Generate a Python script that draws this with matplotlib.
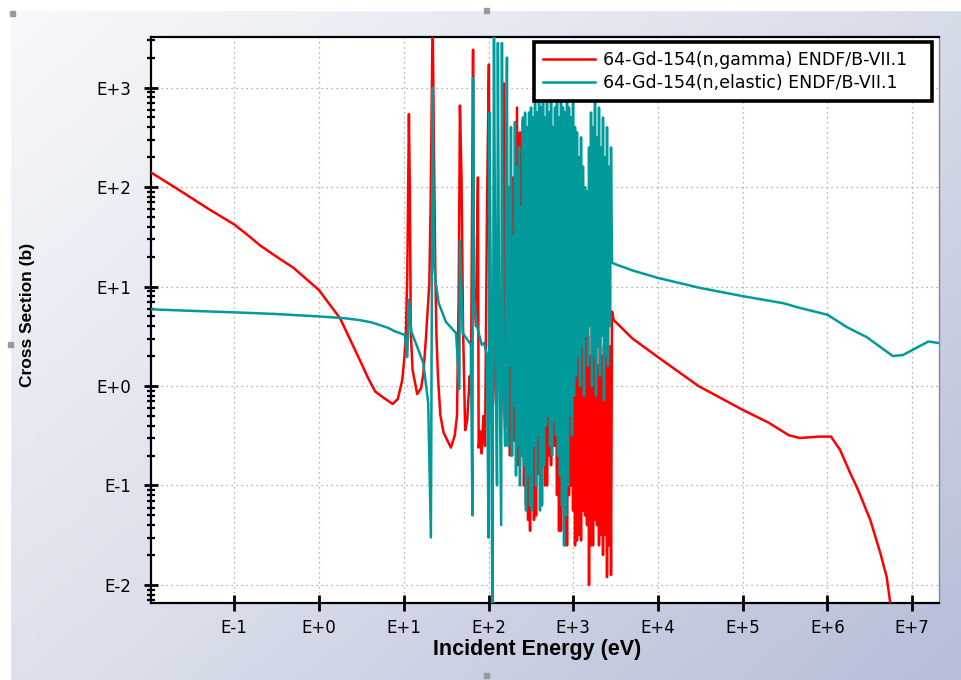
import numpy as np
import matplotlib.pyplot as plt
from matplotlib.colors import LinearSegmentedColormap
from matplotlib.patches import Rectangle
from matplotlib.ticker import LogLocator, NullLocator, NullFormatter

# 64-Gd-154 (n,gamma), low energy + resolved resonances up to ~310 eV
gamma_e = [0.0104, 0.02, 0.05, 0.1, 0.15, 0.2, 0.3, 0.5, 0.7, 1.0, 1.3, 1.77, 2.3, 3.05,
           3.8, 4.6, 5.8, 7.4, 8.5, 9.6, 10.2, 10.6, 11.0, 11.5, 11.8, 12.1, 12.7, 14.4,
           16.0, 17.0, 18.2, 20.0, 20.7, 21.9, 22.6, 23.5, 24.3, 25.3, 27.0, 29.5, 36,
           40, 42.5, 44.5, 46, 48, 50, 53, 56, 60, 62, 65.7, 67, 71, 75, 76.5, 80, 83,
           87, 91, 96, 101, 104, 109, 113, 119, 124, 131, 139, 148, 152, 156, 165, 175,
           179, 184, 189, 195, 200, 205, 211, 217, 223, 229, 235, 242, 249, 255, 262,
           270, 277, 285, 293, 301, 309]
gamma_xs = [140, 99, 60, 42, 32, 26, 20.5, 15.4, 12, 9.2, 6.8, 4.8, 3.0, 1.8,
            1.2, 0.88, 0.76, 0.66, 0.74, 1.15, 2.0, 3.4, 13.5, 540, 85, 3.4, 1.45, 0.83,
            0.95, 1.32, 2.9, 10.5, 58, 5000, 380, 16, 3.2, 1.26, 0.51, 0.34, 0.24,
            0.32, 0.51, 9.5, 660, 125, 4.0, 0.36, 0.45, 1.26, 0.85, 2400, 9.5, 4.0, 125,
            0.24, 0.35, 0.21, 0.5, 0.25, 68, 1700, 2.0, 0.63, 0.66, 4.0, 0.5, 32, 0.32,
            2.5, 1100, 1.6, 0.4, 3.2, 0.2, 10, 0.2, 125, 0.5, 0.28, 16, 630, 0.16, 160,
            355, 0.32, 8, 470, 0.1, 2, 0.063, 20, 0.045, 8, 0.035]

# 64-Gd-154 (n,elastic), low energy + resolved resonances up to ~310 eV
elastic_e = [0.0104, 0.03, 0.1, 0.3, 1.0, 2.0, 3.0, 4.2, 5.2, 6.5, 7.8, 9.0, 10.3, 11.0,
             11.5, 12.3, 14.1, 17, 19.4, 20.9, 21.9, 22.9, 24, 25.8, 31.5, 41.4, 45.3,
             46, 49.6, 56.7, 62, 64.5, 65.7, 67.5, 72.5, 83, 88.7, 96, 100, 103, 107,
             111, 116, 121, 126, 129, 133, 141, 144, 148, 157, 161, 165, 170, 174, 179,
             184, 189, 195, 200, 205, 211, 217, 223, 229, 235, 242, 249, 255, 262, 270,
             277, 285, 293, 301, 309]
elastic_xs = [5.9, 5.7, 5.5, 5.3, 5.0, 4.8, 4.6, 4.35, 4.1, 3.85, 3.55, 3.4, 3.25, 1.95,
              7.4, 3.5, 2.6, 1.7, 0.68, 0.03, 1000, 16, 10.5, 6.8, 4.4, 3.4, 0.93, 29,
              3.4, 2.9, 2.6, 0.05, 1250, 8, 4.1, 2.6, 2.7, 2.0, 0.03, 560, 3.2, 0.005,
              3200, 3.2, 0.1, 2800, 6.3, 0.04, 2800, 2.0, 0.25, 160, 2000, 0.25, 100,
              1.6, 400, 0.2, 32, 0.63, 450, 0.126, 160, 0.25, 250, 0.1, 63, 0.2, 500,
              0.16, 560, 0.056, 400, 0.126, 560, 0.063]

# dense resonance region, ~0.3 - 2.9 keV (shared energy grid)
dense_e = [317.5, 326, 335, 344, 354, 364, 374, 384, 395, 405, 416, 428, 440, 452, 464,
           477, 490, 504, 518, 532, 547, 562, 577, 593, 609, 626, 643, 661, 679, 698,
           717, 737, 757, 778, 800, 822, 844, 868, 891, 916, 941, 967, 994, 1021, 1049,
           1078, 1107, 1138, 1169, 1202, 1235, 1268, 1303, 1339, 1377, 1414, 1453, 1494,
           1535, 1577, 1620, 1664, 1710, 1757, 1806, 1855, 1906, 1959, 2013, 2069, 2125,
           2184, 2244, 2306, 2371, 2435, 2502, 2571, 2642, 2716, 2790, 2866]
gamma_dense = [160, 0.08, 160, 0.045, 10, 0.05, 90, 0.13, 4, 0.13, 16, 295, 0.16, 3.2,
               0.1, 6.3, 0.1, 2, 0.2, 8, 0.16, 180, 0.25, 3.2, 0.25, 5, 0.08, 125, 0.035,
               74, 0.035, 3.2, 0.063, 2.5, 0.025, 4, 0.025, 2, 0.08, 3.2, 0.1, 2.5, 0.056,
               4, 0.025, 2, 0.028, 3.2, 0.032, 1.6, 0.028, 4, 0.056, 2.5, 0.05, 5, 0.04,
               3.2, 0.01, 2, 0.025, 4, 0.025, 2.5, 0.045, 3.2, 0.04, 1.6, 0.025, 3.2,
               0.032, 2, 0.02, 2.5, 0.032, 3.2, 0.012, 2, 0.025, 2.5, 0.0126, 5.6]
elastic_dense = [630, 0.056, 500, 0.25, 700, 0.1, 560, 0.32, 800, 0.056, 630, 0.063,
                 900, 0.16, 500, 0.4, 700, 0.5, 560, 0.25, 800, 0.2, 400, 0.45, 630,
                 0.32, 700, 0.2, 500, 0.126, 800, 0.063, 630, 0.025, 560, 0.05, 900, 0.1,
                 630, 0.5, 500, 0.32, 700, 0.8, 400, 1.26, 355, 2, 200, 1, 316, 2.5, 160,
                 0.8, 100, 3.2, 90, 1.6, 250, 4, 560, 1, 400, 2, 700, 0.8, 316, 2.5, 630,
                 1.26, 250, 3.2, 500, 0.72, 200, 2, 400, 1.6, 160, 4, 250, 17.4]

# smooth (unresolved / fast) part
gamma_fast_e = [3000, 5000, 1e4, 3e4, 1e5, 2e5, 3.5e5, 4.7e5, 8e5, 1.1e6, 1.4e6, 1.85e6,
                2.3e6, 3.2e6, 4.2e6, 5.0e6, 5.5e6, 6.5e6]
gamma_fast_xs = [4.6, 3.0, 1.95, 1.0, 0.575, 0.43, 0.32, 0.30, 0.31, 0.31, 0.23, 0.134,
                 0.09, 0.045, 0.021, 0.012, 0.0066, 0.003]
elastic_fast_e = [3000, 5000, 1e4, 3.1e4, 1e5, 3e5, 4.7e5, 1e6, 1.7e6, 2.9e6, 5.9e6,
                  7.8e6, 1.55e7, 2.07e7]
elastic_fast_xs = [17, 14.5, 12.2, 9.7, 8.0, 6.8, 6.1, 5.2, 3.9, 3.1, 2.0, 2.05, 2.8, 2.7]

x_ticks = [1e-1, 1e0, 1e1, 1e2, 1e3, 1e4, 1e5, 1e6, 1e7]
x_labels = ['E-1', 'E+0', 'E+1', 'E+2', 'E+3', 'E+4', 'E+5', 'E+6', 'E+7']
y_ticks = [1e-2, 1e-1, 1e0, 1e1, 1e2, 1e3]
y_labels = ['E-2', 'E-1', 'E+0', 'E+1', 'E+2', 'E+3']

W, H = 962, 680
fig = plt.figure(figsize=(W / 100, H / 100), dpi=100)

# gradient background
bg = fig.add_axes([0, 0, 1, 1])
bg.axis('off')
gx, gy = np.meshgrid(np.linspace(0, 1, 200), np.linspace(0, 1, 140))
cmap = LinearSegmentedColormap.from_list('bg', ['#f8f9fb', '#dadfea', '#b6bed9'])
bg.imshow(0.55 * gx + 0.45 * gy, cmap=cmap, extent=[0, 1, 0, 1], aspect='auto',
          origin='upper', vmin=0, vmax=1)
bg.set_xlim(0, 1)
bg.set_ylim(0, 1)
fig.patches.append(Rectangle((0, 1 - 10 / H), 1, 10 / H, transform=fig.transFigure,
                             color='white', zorder=1))
fig.patches.append(Rectangle((0, 0), 10 / W, 1, transform=fig.transFigure,
                             color='white', zorder=1))
for hx, hy in [(10, 12), (484, 9), (8, 343), (484, 674)]:
    fig.patches.append(Rectangle((hx / W, 1 - (hy + 4) / H), 5 / W, 5 / H,
                                 transform=fig.transFigure, color='#9a9a9a', zorder=2))

ax = fig.add_axes([151 / W, 77 / H, 788 / W, 566 / H])
ax.set_facecolor('white')
ax.set_xscale('log')
ax.set_yscale('log')

red = '#ff0000'
teal = '#009a9a'
ax.plot(gamma_e + dense_e + gamma_fast_e, gamma_xs + gamma_dense + gamma_fast_xs,
        color=red, lw=1.8, zorder=3, label='64-Gd-154(n,gamma) ENDF/B-VII.1')
ax.plot(elastic_e + dense_e + elastic_fast_e, elastic_xs + elastic_dense + elastic_fast_xs,
        color=teal, lw=1.8, zorder=4, label='64-Gd-154(n,elastic) ENDF/B-VII.1')

ax.set_xlim(0.0104, 2.07e7)
ax.set_ylim(0.00659, 3220)

ax.set_xticks(x_ticks)
ax.set_xticklabels(x_labels)
ax.xaxis.set_minor_locator(NullLocator())
ax.set_yticks(y_ticks)
ax.set_yticklabels(y_labels)
ax.yaxis.set_minor_locator(LogLocator(base=10, subs=np.arange(2, 10), numticks=20))
ax.yaxis.set_minor_formatter(NullFormatter())

ax.tick_params(axis='x', which='major', direction='inout', length=11, width=2,
               pad=6, labelsize=12, colors='black')
ax.tick_params(axis='y', which='major', direction='inout', length=10, width=2,
               pad=9, labelsize=12)
ax.tick_params(axis='y', which='minor', direction='inout', length=6, width=1.6)
for lab in ax.get_xticklabels() + ax.get_yticklabels():
    lab.set_family('DejaVu Sans')

ax.grid(True, which='major', color='#9a9a9a', linestyle=(0, (1, 3)), linewidth=0.9)

for side in ['left', 'bottom', 'top']:
    ax.spines[side].set_color('black')
    ax.spines[side].set_linewidth(1.6)
ax.spines['right'].set_color('#888888')
ax.spines['right'].set_linewidth(1.0)

leg = ax.legend(loc='upper left', bbox_to_anchor=(0.486, 0.5, 0.505, 0.491),
                mode='expand', borderaxespad=0,
                fancybox=False, framealpha=1, edgecolor='black', handlelength=3.0,
                handletextpad=0.45, borderpad=0.5, labelspacing=0.3,
                prop={'family': 'DejaVu Sans', 'size': 12.5})
leg.get_frame().set_linewidth(2.6)
leg.set_zorder(10)
for line in leg.get_lines():
    line.set_linewidth(1.8)

fig.text(537 / W, 1 - 650 / H, 'Incident Energy (eV)', ha='center', va='center',
         fontsize=15.5, fontweight='bold', family=['Liberation Sans', 'DejaVu Sans'])
fig.text(28 / W, 1 - 315 / H, 'Cross Section (b)', ha='center', va='center',
         rotation=90, fontsize=12.5, fontweight='bold',
         family=['Liberation Sans', 'DejaVu Sans'])

fig.savefig('out.png', dpi=100)
